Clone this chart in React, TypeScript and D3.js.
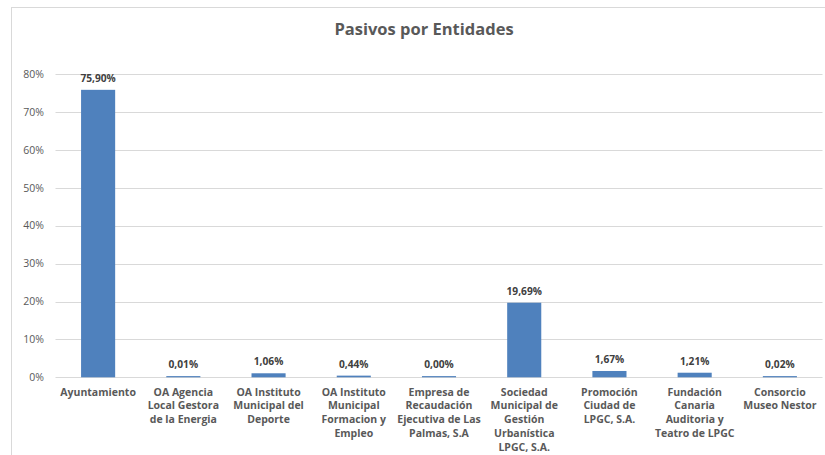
import React from "react";
import * as d3 from "d3";

const categories: string[][] = [
  ["Ayuntamiento"],
  ["OA Agencia", "Local Gestora", "de la Energia"],
  ["OA Instituto", "Municipal del", "Deporte"],
  ["OA Instituto", "Municipal", "Formacion y", "Empleo"],
  ["Empresa de", "Recaudación", "Ejecutiva de Las", "Palmas, S.A"],
  ["Sociedad", "Municipal de", "Gestión", "Urbanística", "LPGC, S.A."],
  ["Promoción", "Ciudad de", "LPGC, S.A."],
  ["Fundación", "Canaria", "Auditoria y", "Teatro de LPGC"],
  ["Consorcio", "Museo Nestor"],
];
const values: number[] = [75.9, 0.01, 1.06, 0.44, 0.0, 19.69, 1.67, 1.21, 0.02];
const yTicks: number[] = [0, 10, 20, 30, 40, 50, 60, 70, 80];
const title = "Pasivos por Entidades";

const W = 825;
const H = 455;
const FONT = "'Open Sans', 'DejaVu Sans', sans-serif";

export default function App() {
  const left = 55.5;
  const right = 822.5;
  const top = 74.3;
  const bottom = 377.3;
  const idx = categories.map((_, i) => String(i));
  const x = d3.scaleBand<string>().domain(idx).range([left, right]).paddingInner(0.6).paddingOuter(0.3);
  const y = d3.scaleLinear().domain([0, 80]).range([bottom, top]);
  const fmt = (v: number) => v.toFixed(2).replace(".", ",") + "%";

  return (
    <svg
      width={W}
      height={H}
      style={{ position: "absolute", left: 0, top: 0, background: "#fff" }}
      fontFamily={FONT}
    >
      <rect x={0} y={0} width={W} height={H} fill="#fff" />
      <rect x={11.5} y={7.5} width={W + 20} height={H + 20} fill="none" stroke="#d9d9d9" strokeWidth={1} />
      <text x={424} y={34.5} textAnchor="middle" fontSize={16.5} fontWeight={700} fill="#595959">
        {title}
      </text>
      {yTicks.map((t) => (
        <g key={t}>
          <line x1={left} x2={right} y1={Math.round(y(t)) + 0.5} y2={Math.round(y(t)) + 0.5} stroke="#d9d9d9" strokeWidth={1} />
          <text x={44} y={y(t)} dy="0.35em" textAnchor="end" fontSize={10.5} fill="#595959">
            {t}%
          </text>
        </g>
      ))}
      {values.map((v, i) => {
        const bx = x(String(i))!;
        const bw = x.bandwidth();
        const yt = y(v);
        const h = Math.max(1.2, bottom - yt);
        return (
          <g key={i}>
            <rect x={bx} y={bottom - h} width={bw} height={h} fill="#4f81bd" />
            <text x={bx + bw / 2} y={bottom - h - 8} textAnchor="middle" fontSize={10.2} fontWeight={700} fill="#404040">
              {fmt(v)}
            </text>
          </g>
        );
      })}
      {categories.map((lines, i) => {
        const cx = x(String(i))! + x.bandwidth() / 2;
        return (
          <text key={i} textAnchor="middle" fontSize={10.5} fontWeight={700} fill="#595959">
            {lines.map((l, j) => (
              <tspan key={j} x={cx} y={395.5 + j * 13.8}>
                {l}
              </tspan>
            ))}
          </text>
        );
      })}
    </svg>
  );
}
